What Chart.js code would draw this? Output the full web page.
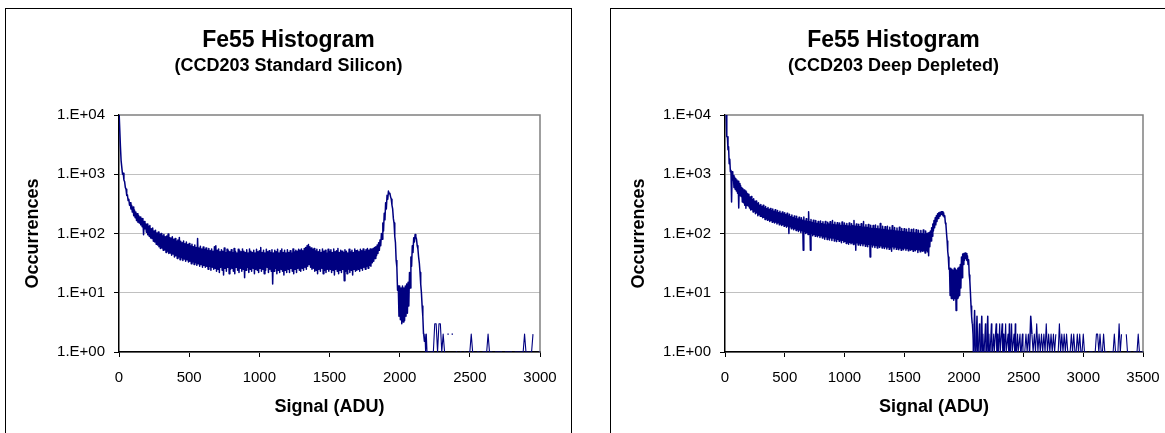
<!DOCTYPE html>
<html>
<head>
<meta charset="utf-8">
<title>Fe55 Histogram</title>
<script src="https://cdn.jsdelivr.net/npm/chart.js@4.4.1/dist/chart.umd.min.js"></script>
<style>
    html, body { margin: 0; padding: 0; background: #fff; }
    body { width: 1165px; height: 433px; position: relative; overflow: hidden; font-family: "Liberation Sans", Arial, sans-serif; }
    .panel { position: absolute; top: 8px; width: 565px; height: 440px; border: 1px solid #000; background: #fff; }
    #panelStd { left: 5px; }
    #panelDeep { left: 610px; }
    .panel canvas { position: absolute; left: 0; top: 0; }
    .heading { position: absolute; left: 0; width: 100%; top: 19px; text-align: center; font: bold 23px/23px "Liberation Sans", Arial, sans-serif; color: #000; }
    .subheading { position: absolute; left: 0; width: 100%; top: 47px; text-align: center; font: bold 18px/18px "Liberation Sans", Arial, sans-serif; color: #000; }
</style>
</head>
<body>
<div class="panel" id="panelStd">
    <canvas id="chartStd" width="565" height="440"></canvas>
    <div class="heading">Fe55 Histogram</div>
    <div class="subheading">(CCD203 Standard Silicon)</div>
</div>
<div class="panel" id="panelDeep">
    <canvas id="chartDeep" width="565" height="440"></canvas>
    <div class="heading">Fe55 Histogram</div>
    <div class="subheading">(CCD203 Deep Depleted)</div>
</div>
<script>
// counts are grouped in 10 ADU bins starting at 0 ADU; for every bin the
// largest and the smallest count of the raw histogram are kept
var binWidth = 10;

var occurrenceTicks = [1, 10, 100, 1000, 10000];
var occurrenceLabels = ["1.E+00", "1.E+01", "1.E+02", "1.E+03", "1.E+04"];
var stdSignalTicks = [0, 500, 1000, 1500, 2000, 2500, 3000];
var deepSignalTicks = [0, 500, 1000, 1500, 2000, 2500, 3000, 3500];

// CCD203 standard silicon, largest count per bin, one row = 100 ADU (null = empty)
var stdMax = [
    12000, 3000, 1700, 1040, 750, 560, 450, 380, 330, 300,
    280, 250, 230, 215, 200, 190, 180, 180, 160, 145,
    145, 132, 136, 120, 124, 110, 114, 102, 106, 98,
    100, 92, 96, 88, 91, 98, 86, 84, 88, 80,
    82, 75, 78, 86, 74, 70, 75, 67, 72, 65,
    68, 62, 66, 60, 64, 58, 82, 57, 61, 55,
    59, 54, 57, 52, 56, 51, 55, 50, 60, 62,
    52, 55, 49, 53, 50, 57, 48, 54, 51, 49,
    53, 48, 56, 50, 47, 54, 51, 49, 55, 50,
    48, 53, 47, 55, 50, 48, 52, 47, 54, 49,
    51, 58, 48, 52, 47, 54, 49, 51, 48, 53,
    47, 52, 49, 54, 47, 51, 55, 48, 52, 47,
    53, 48, 51, 47, 55, 49, 52, 50, 54, 52,
    55, 51, 56, 58, 62, 65, 60, 57, 54, 56,
    51, 54, 49, 53, 48, 55, 50, 52, 47, 54,
    50, 53, 48, 55, 49, 51, 56, 48, 52, 50,
    48, 53, 50, 47, 54, 49, 52, 48, 55, 51,
    52, 49, 54, 51, 55, 50, 53, 56, 52, 55,
    54, 56, 58, 60, 64, 70, 78, 100, 150, 220,
    330, 440, 520, 480, 380, 260, 150, 70, 27, 13,
    13, 12, 13, 12, 13, 14, 15, 22, 40, 62,
    85, 96, 80, 55, 32, 14, 6, 2, 2, 2,
    1, 1, 1, 1, 1, 3, 3, 1, 3, 3,
    1, 2, 1, null, 2, 2, null, 2, 2, null,
    1, 1, null, 1, 1, null, 1, 1, null, 1,
    1, 2, 1, 1, null, 1, 1, 1, null, 1,
    1, 1, 1, 2, 1, 1, 1, null, 1, 1,
    1, 1, 1, 1, null, 1, 1, 1, 1, 1,
    1, null, 1, 1, 1, 1, 1, 1, 1, 2,
    1, 1, 1, 1, 1, 2, null, 2, null, 1,
    1
];

// smallest count per bin; bins past the end of this list hold a single count
var stdMin = [
    12000, 1700, 1000, 800, 600, 440, 360, 300, 260, 230,
    200, 185, 165, 155, 150, 140, 130, 95, 120, 105,
    95, 90, 84, 82, 74, 72, 66, 64, 60, 56,
    57, 52, 53, 48, 50, 46, 47, 43, 45, 40,
    42, 38, 40, 36, 39, 35, 37, 34, 36, 33,
    34, 31, 33, 30, 32, 29, 31, 28, 30, 27,
    29, 27, 28, 25, 28, 24, 27, 25, 26, 23,
    25, 22, 27, 24, 20, 26, 23, 27, 21, 25,
    26, 23, 21, 27, 24, 22, 26, 23, 25, 18,
    24, 27, 22, 25, 23, 26, 21, 25, 24, 22,
    26, 23, 25, 21, 24, 27, 22, 25, 23, 14,
    23, 26, 21, 24, 22, 25, 23, 20, 24, 22,
    25, 22, 26, 23, 21, 25, 22, 26, 24, 23,
    26, 24, 27, 25, 28, 30, 27, 25, 26, 23,
    24, 21, 25, 23, 26, 21, 24, 22, 25, 23,
    25, 22, 24, 20, 25, 23, 21, 24, 22, 25,
    16, 23, 21, 25, 22, 24, 20, 25, 23, 24,
    25, 23, 26, 24, 27, 25, 28, 26, 29, 28,
    32, 34, 38, 42, 46, 52, 62, 80, 110, 170,
    260, 380, 470, 420, 300, 180, 90, 35, 11, 4,
    3.5, 3, 3.2, 3.4, 4, 4.5, 6, 12, 28, 48,
    72, 88, 62, 40, 22, 10, 4, 1.5, 1, 1
];

// CCD203 deep depleted, largest count per bin
var deepMax = [
    12000, 10000, 4300, 2900, 1800, 1170, 1100, 950, 900, 850,
    800, 760, 700, 650, 600, 570, 540, 520, 500, 470,
    460, 415, 420, 375, 385, 350, 355, 325, 330, 300,
    310, 285, 300, 272, 285, 262, 275, 255, 265, 245,
    258, 238, 252, 230, 245, 225, 238, 218, 230, 215,
    225, 208, 220, 200, 212, 192, 205, 185, 198, 180,
    195, 175, 188, 170, 185, 168, 190, 163, 178, 160,
    232, 158, 172, 154, 168, 150, 165, 148, 160, 145,
    162, 146, 158, 143, 160, 140, 155, 144, 158, 141,
    165, 142, 155, 139, 152, 140, 150, 137, 156, 138,
    150, 136, 148, 134, 150, 133, 146, 135, 165, 132,
    145, 131, 143, 130, 146, 128, 160, 127, 140, 126,
    142, 124, 138, 122, 136, 121, 139, 120, 134, 119,
    148, 118, 133, 117, 130, 116, 132, 114, 128, 113,
    135, 112, 126, 110, 124, 109, 127, 108, 122, 107,
    120, 106, 118, 105, 121, 104, 117, 103, 119, 102,
    116, 101, 114, 100, 112, 99, 115, 98, 110, 100,
    102, 104, 110, 125, 145, 165, 185, 200, 215, 225,
    228, 232, 232, 225, 200, 140, 75, 40, 26, 26,
    25, 24, 26, 25, 24, 26, 27, 30, 40, 45,
    46, 47, 46, 42, 36, 16, 6, 3, 1, 5,
    1, 4, 1, 3, 1, 4, 2, 1, 3, 1,
    4, 2, 1, 3, 1, 2, 1, 3, 2, 1,
    3, 1, 3, 2, 1, 3, 1, 2, 3, 1,
    3, 1, 2, 3, 1, 2, 1, 2, 1, 2,
    1, 1, 2, 1, 2, 1, 4, 2, 1, 2,
    1, 3, 1, 2, 1, 2, 1, 2, 1, 3,
    1, 2, 1, 2, 1, 2, 1, 2, null, 1,
    3, 1, 2, 1, 2, 1, 2, 1, null, 1,
    2, 1, 2, 1, 1, 2, 1, 2, 1, 1,
    2, 1, 1, 1, null, 1, 1, 1, 1, null,
    1, 2, 2, 1, 2, 1, 1, 2, 1, 1,
    1, null, 1, 1, 1, 1, 2, 1, 1, 1,
    3, 1, 2, null, 2, null, 2, 1, 1, 1,
    1, null, 1, 1, 1, 1, 2, 1, 1, 1,
    1
];

var deepMin = [
    12000, 4300, 2600, 1500, 1100, 340, 800, 600, 560, 520,
    480, 270, 440, 420, 340, 330, 300, 266, 300, 290,
    270, 250, 255, 230, 240, 215, 225, 200, 210, 195,
    195, 185, 188, 172, 180, 168, 172, 160, 168, 155,
    160, 150, 156, 145, 152, 140, 148, 136, 142, 132,
    138, 128, 134, 100, 130, 120, 126, 116, 122, 112,
    118, 108, 115, 104, 112, 52, 108, 100, 104, 96,
    102, 52, 100, 92, 97, 90, 95, 88, 93, 86,
    92, 84, 90, 80, 88, 79, 86, 78, 85, 76,
    84, 75, 82, 73, 80, 74, 78, 70, 77, 71,
    74, 68, 72, 66, 71, 67, 70, 65, 69, 52,
    70, 64, 69, 63, 68, 62, 67, 61, 66, 60,
    66, 40, 65, 59, 64, 58, 63, 57, 62, 58,
    62, 57, 61, 56, 60, 55, 59, 54, 58, 50,
    60, 55, 59, 54, 58, 53, 57, 52, 56, 53,
    57, 52, 56, 51, 55, 52, 54, 50, 53, 51,
    54, 48, 53, 49, 52, 50, 51, 47, 52, 49,
    42, 60, 75, 90, 110, 125, 140, 160, 180, 195,
    205, 212, 200, 190, 150, 100, 50, 25, 9, 8,
    8, 7.5, 8, 5, 8, 8.5, 9, 12, 18, 30,
    35, 38, 35, 30, 20, 10, 4, 2, 1, 1,
    1, 1, 1, 1, 1, 1, 1, 1, 1, 1,
    1, 1, 1, 1, 1, 1, 1, 1, 1, 1,
    1, 1, 1, 1, 1, 1, 1, 1, 1, 1,
    1, 1, 1, 1, 1, 1, 1, 1, 1, 1
];

Chart.defaults.font.family = "'Liberation Sans', Arial, sans-serif";
Chart.defaults.color = "#000";

// grey frame on the top and right of the plot area
var plotFrame = {
    id: "plotFrame",
    beforeDatasetsDraw: function(chart) {
        var ctx = chart.ctx, a = chart.chartArea;
        ctx.save();
        ctx.strokeStyle = "#808080";
        ctx.lineWidth = 1.5;
        ctx.beginPath();
        ctx.moveTo(a.left, a.top);
        ctx.lineTo(a.right, a.top);
        ctx.lineTo(a.right, a.bottom);
        ctx.stroke();
        ctx.restore();
    }
};

// single counts in the tail get a hairline
function segmentWidth(ctx) {
    return (ctx.p0.parsed.y <= 3 && ctx.p1.parsed.y <= 3) ? 1.1 : 1.5;
}

// max of each bin at its start, min half a bin later
function binPoints(maxCounts, minCounts) {
    var pts = [];
    maxCounts.forEach(function(hi, i) {
        var lo = i < minCounts.length ? minCounts[i] : hi;
        pts.push({ x: i * binWidth, y: hi });
        if (lo !== hi) {
            pts.push({ x: i * binWidth + binWidth / 2, y: lo });
        }
    });
    return pts;
}

function drawHistogram(canvasId, maxCounts, minCounts, signalTicks, axisWidth, padRight, yTitlePad) {
    return new Chart(document.getElementById(canvasId), {
        type: "line",
        data: {
            datasets: [{
                data: binPoints(maxCounts, minCounts),
                borderColor: "#000080",
                borderWidth: 1.5,
                borderJoinStyle: "round",
                pointRadius: 0,
                tension: 0,
                spanGaps: false,
                segment: { borderWidth: segmentWidth }
            }]
        },
        plugins: [plotFrame],
        options: {
            responsive: false,
            animation: false,
            events: [],
            layout: { padding: { top: 106, right: padRight, bottom: 17, left: 0 } },
            plugins: {
                legend: { display: false },
                tooltip: { enabled: false }
            },
            scales: {
                x: {
                    type: "linear",
                    min: 0,
                    max: signalTicks[signalTicks.length - 1],
                    afterBuildTicks: function(scale) {
                        scale.ticks = signalTicks.map(function(v) { return { value: v }; });
                    },
                    afterFit: function(scale) { scale.height = 80; },
                    grid: { drawOnChartArea: false, tickLength: 5, tickColor: "#000", tickWidth: 1 },
                    border: { color: "#000", width: 1.5 },
                    ticks: {
                        autoSkip: false,
                        maxRotation: 0,
                        padding: 12,
                        font: { size: 15 },
                        callback: function(value) { return String(value); }
                    },
                    title: {
                        display: true,
                        text: "Signal (ADU)",
                        font: { size: 18, weight: "bold" },
                        padding: { top: 0, bottom: 14 }
                    }
                },
                y: {
                    type: "logarithmic",
                    min: 1,
                    max: 10000,
                    afterBuildTicks: function(scale) {
                        scale.ticks = occurrenceTicks.map(function(v) { return { value: v }; });
                    },
                    afterFit: function(scale) { scale.width = axisWidth; },
                    grid: {
                        color: function(ctx) {
                            return ctx.tick && ctx.tick.value === 10000 ? "rgba(0,0,0,0)" : "#c0c0c0";
                        },
                        lineWidth: 1,
                        tickLength: 5,
                        tickColor: "#000",
                        tickWidth: 1
                    },
                    border: { color: "#000", width: 1.5 },
                    ticks: {
                        padding: 9,
                        font: { size: 15 },
                        callback: function(value) {
                            return occurrenceLabels[occurrenceTicks.indexOf(value)];
                        }
                    },
                    title: {
                        display: true,
                        text: "Occurrences",
                        font: { size: 18, weight: "bold" },
                        padding: { top: yTitlePad, bottom: 0 }
                    }
                }
            }
        }
    });
}

drawHistogram("chartStd", stdMax, stdMin, stdSignalTicks, 113, 31, 16);
drawHistogram("chartDeep", deepMax, deepMin, deepSignalTicks, 114, 33, 17.5);
</script>
</body>
</html>
